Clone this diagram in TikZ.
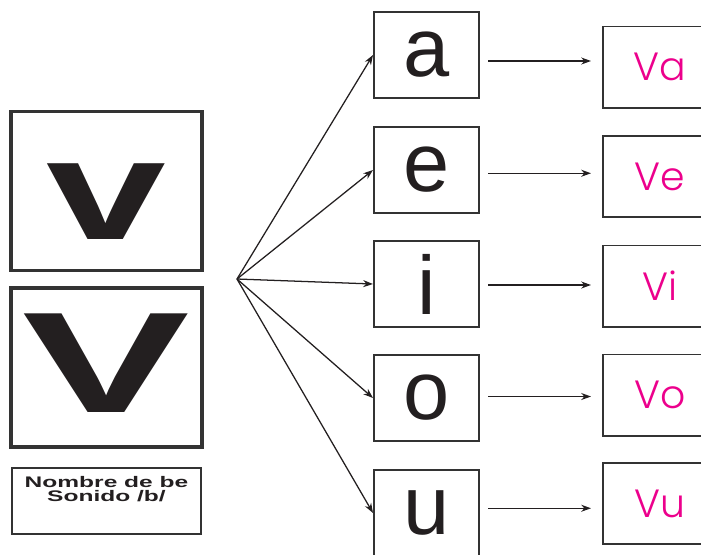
\documentclass[tikz,border=0pt]{standalone}
\usepackage{fontspec}
\setmainfont{Liberation Sans}
\IfFontExistsTF{Poppins-Light}{\newfontfamily\sylfont{Poppins-Light}}{%
  \IfFontExistsTF{Poppins Light}{\newfontfamily\sylfont{Poppins Light}}{\newfontfamily\sylfont{Poppins}}}
\usetikzlibrary{arrows.meta, calc}
\definecolor{inkDark}  {RGB}{35, 31, 32}
\definecolor{lineGray} {RGB}{51, 51, 51}
\definecolor{sylPink}  {RGB}{236, 0, 140}

\begin{document}
\begin{tikzpicture}[
  x=0.025cm, y=-0.025cm,
  bigbox/.style = {
    rectangle, draw=lineGray, line width=2.2pt, inner sep=0pt,
    minimum width=4.775cm, minimum height=3.975cm, text=inkDark,
    font=\fontsize{102}{102}\selectfont\bfseries
  },
  namebox/.style = {
    rectangle, draw=lineGray, line width=1.8pt, inner sep=0pt,
    minimum width=4.725cm, minimum height=1.65cm, text=inkDark,
    align=center, text depth=0.6cm,
    font=\fontsize{10.9}{9.6}\selectfont\bfseries
  },
  vowel/.style = {
    rectangle, draw=lineGray, line width=1.4pt, inner sep=0pt,
    minimum width=2.625cm, minimum height=2.15cm, text=inkDark,
    font=\fontsize{59}{59}\selectfont
  },
  syl/.style = {
    rectangle, draw=lineGray, line width=1.4pt, inner sep=0pt,
    minimum width=2.85cm, minimum height=2.025cm, text=sylPink,
    font=\fontsize{28}{28}\sylfont
  },
  arr/.style = {-{Stealth[length=7pt, width=5pt]}, line width=0.9pt, inkDark}
]
  \useasboundingbox (0,0) rectangle (701,554);

  % letter cards
  \node[bigbox, text height=68.6pt, text depth=0pt] (vmin) at (106.5,191) {\scalebox{1.5}[1]{v}};
  \node[bigbox, text height=64.4pt, text depth=0pt] (vmay) at (106.5,367.5) {\scalebox{1.75}[1]{V}};
  \node[namebox] (nombre) at (106.5,501)
    {\scalebox{1.6}[1]{Nombre de be}\\\scalebox{1.6}[1]{Sonido /b/}};

  % vowels
  \node[vowel] (a) at (426.5,55)  {a};
  \node[vowel] (e) at (426.5,170) {e};
  \node[vowel] (i) at (426.5,284) {i};
  \node[vowel] (o) at (426.5,398) {o};
  \node[vowel] (u) at (426.5,513) {u};

  % syllables
  \node[syl] (Va) at (660,67)    {Va};
  \node[syl] (Ve) at (660,176.5) {Ve};
  \node[syl] (Vi) at (660,286)   {Vi};
  \node[syl] (Vo) at (660,395)   {Vo};
  \node[syl] (Vu) at (660,503.5) {Vu};

  \coordinate (fan) at (237,279);
  \foreach \v in {a,e,i,o,u} {
    \draw[arr] (fan) -- (\v.west);
    \coordinate (m\v) at ($(\v.east)!.5!(V\v.west)$);
    \draw[arr, shorten <=0.2cm, shorten >=0.275cm] (m\v -| \v.east) -- (m\v -| V\v.west);
  }
\end{tikzpicture}
\end{document}
